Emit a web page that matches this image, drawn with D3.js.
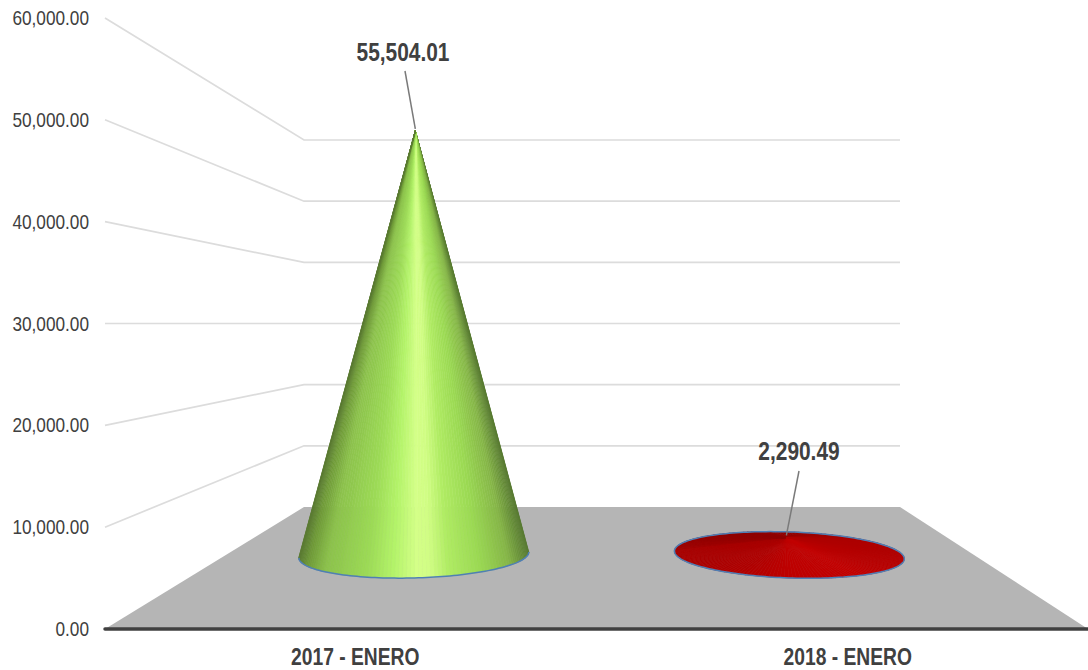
<!DOCTYPE html>
<html><head><meta charset="utf-8">
<script src="https://cdn.jsdelivr.net/npm/d3@7"></script>
<style>html,body{margin:0;background:#fff}svg{display:block}</style></head>
<body><svg id="c" width="1088" height="670"></svg>
<script>
const categories = ["2017 - ENERO", "2018 - ENERO"];
const values = [55504.01, 2290.49];
const valueLabels = ["55,504.01", "2,290.49"];
const tickValues = [0, 10000, 20000, 30000, 40000, 50000, 60000];
const coneStops = [[0,"#5a7a32"],[0.04,"#6f9a38"],[0.12,"#8cc24c"],[0.3,"#9cda56"],[0.42,"#b4f46a"],[0.52,"#d4ff88"],[0.58,"#d0fd84"],[0.66,"#b0ec64"],[0.8,"#9ad853"],[0.92,"#86b648"],[1,"#587a32"]];
const redStops = [[0,"#a80000"],[0.3,"#b00000"],[0.5,"#bd0000"],[0.8,"#c20000"],[1,"#b40000"]];

const svg = d3.select("#c");
const FONT = "'Liberation Sans', Arial, sans-serif";
const squeeze = 0.82;
const yFront = d3.scaleLinear().domain([0, 60000]).range([629, 18]);
const yBack  = d3.scaleLinear().domain([0, 60000]).range([507, 140]);
const xFront = d3.scaleLinear().domain([0, 1]).range([105, 1088]);
const xBack  = d3.scaleLinear().domain([0, 1]).range([304, 900]);
const band = d3.scaleBand().domain(categories).range([0, 1]);
const labelX = d3.scaleBand().domain(categories).range([109, 1094]);
const depth = 0.607, heightDepth = 0.625;
const px = (u, d) => xFront(u) + (xBack(u) - xFront(u)) * d;
const py = (v, d) => yFront(v) + (yBack(v) - yFront(v)) * d;

tickValues.slice(1).forEach(t => {
  svg.append("path")
    .attr("d", d3.line()([[xFront(0), yFront(t)], [xBack(0), yBack(t)], [xBack(1), yBack(t)]]))
    .attr("fill", "none").attr("stroke", "#dcdcdc").attr("stroke-width", 1.7);
});
svg.append("path")
  .attr("d", d3.line()([[xFront(0), yFront(0)], [xBack(0), yBack(0)], [xBack(1), yBack(0)], [xFront(1), yFront(0)]]) + "Z")
  .attr("fill", "#b5b5b5");
svg.append("line").attr("x1", xFront(0)).attr("x2", xFront(1)).attr("y1", yFront(0)).attr("y2", yFront(0))
  .attr("stroke", "#404040").attr("stroke-width", 3.5).attr("stroke-linecap", "round");

const squeezed = (sel, x, y) => sel.attr("transform", (d, i) => `translate(${x(d, i)},${y(d, i)}) scale(${squeeze},1)`)
  .attr("font-family", FONT).attr("fill", "#404040");

squeezed(svg.selectAll("text.tick").data(tickValues).join("text").attr("class", "tick"),
    () => 89, d => yFront(d) + 7)
  .attr("text-anchor", "end").attr("font-size", 21)
  .text(d => d3.format(",.2f")(d));

squeezed(svg.selectAll("text.cat").data(categories).join("text").attr("class", "cat"),
    d => labelX(d) + labelX.bandwidth() / 2, () => 665)
  .attr("text-anchor", "middle").attr("font-weight", "bold").attr("font-size", 23.5)
  .text(d => d);

const rx = 115, ry = 23, tilts = [-1.5, 2];
const ramp = stops => d3.scaleLinear().domain(stops.map(s => s[0])).range(stops.map(s => s[1]));
const leaderTop = [[405, 71], [799, 471]];
const labelPos = [[403, 61], [799, 460]];

categories.forEach((c, i) => {
  const u = band(c) + band.bandwidth() / 2;
  const cx = px(u, depth) + (i === 0 ? 1 : 2.5), cy = py(0, depth);
  const ax = cx + (i === 0 ? 1.5 : -3);
  const ay = cy - (py(0, heightDepth) - py(values[i], heightDepth));
  const tilt = tilts[i] * Math.PI / 180;
  const pt = a => {
    const x = rx * Math.cos(a), y = ry * Math.sin(a);
    return [cx + x * Math.cos(tilt) - y * Math.sin(tilt), cy + x * Math.sin(tilt) + y * Math.cos(tilt)];
  };
  const g = svg.append("g");
  const N = 180;
  const ell = d3.range(N + 1).map(k => pt(k / N * 2 * Math.PI));
  const col = ramp(i === 0 ? coneStops : redStops);
  d3.range(N).forEach(k => {
    const a0 = k / N * 2 * Math.PI, a1 = (k + 1) / N * 2 * Math.PI;
    const p0 = pt(a0), p1 = pt(a1);
    const t = (p0[0] - (cx - rx)) / (2 * rx);
    const visible = i === 1 || (a0 >= 0 && a0 <= Math.PI);
    if (!visible) return;
    const back = Math.max(0, -Math.sin(a0));
    const mix = Math.sqrt(back) * (t < 0.5 ? 0.8 : 0.8 - (t - 0.5) * 1.2);
    const shade = i === 1 ? d3.interpolateRgb(col(t), "#850000")(mix) : col(t);
    g.append("path").attr("d", d3.line()([[ax, ay], p0, p1]) + "Z").attr("fill", shade).attr("stroke", shade).attr("stroke-width", 0.6);
  });
  const rim = i === 0 ? ell.slice(0, N / 2 + 1) : ell;
  g.append("path").attr("d", d3.line()(rim)).attr("fill", "none")
    .attr("stroke", "#4f7fb5").attr("stroke-width", 1.5);
  svg.append("line").attr("x1", leaderTop[i][0]).attr("y1", leaderTop[i][1]).attr("x2", ax).attr("y2", ay - 2)
    .attr("stroke", "#7a7a7a").attr("stroke-width", 1.5);
  svg.append("text").attr("transform", `translate(${labelPos[i][0]},${labelPos[i][1]}) scale(${squeeze},1)`)
    .attr("text-anchor", "middle").attr("fill", "#404040").attr("font-weight", "bold")
    .attr("font-family", FONT).attr("font-size", 25.5)
    .text(valueLabels[i]);
});
</script></body></html>
